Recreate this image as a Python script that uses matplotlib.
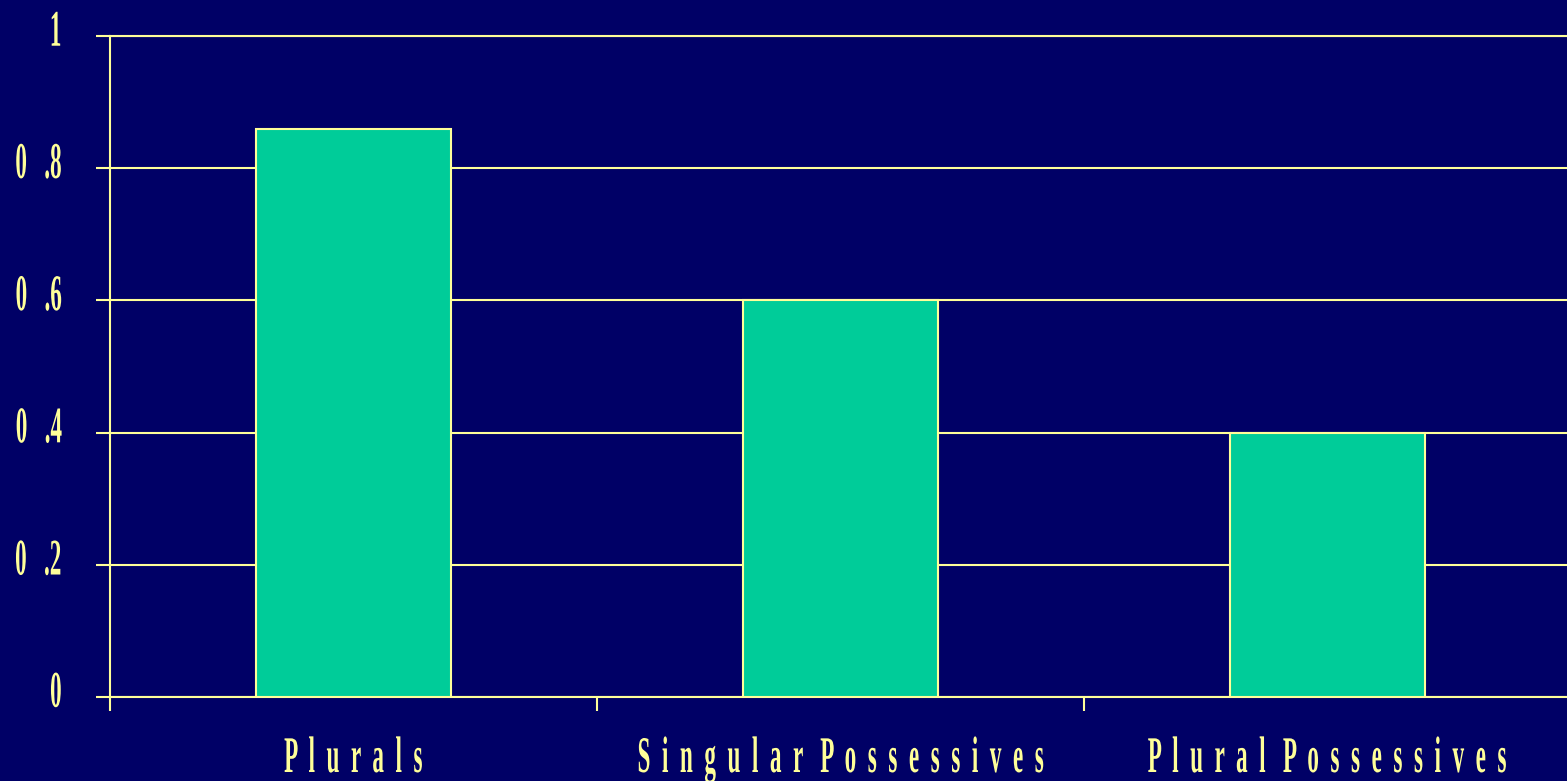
import matplotlib
matplotlib.use("Agg")
import matplotlib.pyplot as plt
import numpy as np
from matplotlib.patheffects import AbstractPathEffect
from matplotlib.transforms import Affine2D, ScaledTranslation

# datos
categorias = ["Plurals", "Singular Possessives", "Plural Possessives"]
valores = [0.86, 0.60, 0.40]
y_ticks = [0, 0.2, 0.4, 0.6, 0.8, 1]

FONDO = "#000066"
BARRA = "#00CC99"
AMARILLO = "#FFFF99"


class Estrecho(AbstractPathEffect):
    """Comprime el texto en horizontal (letra condensada)."""

    def __init__(self, sx=0.45, anclaje="center"):
        super().__init__()
        self.sx = sx
        self.anclaje = anclaje

    def draw_path(self, renderer, gc, tpath, affine, rgbFace=None):
        ext = tpath.get_extents()
        cx = ext.x1 if self.anclaje == "right" else (ext.x0 + ext.x1) / 2
        t = Affine2D().translate(-cx, 0).scale(self.sx, 1).translate(cx, 0) + affine
        renderer.draw_path(gc, tpath, t, rgbFace)


def espaciar(texto):
    # letras separadas, palabras un poco mas separadas
    return "   ".join("  ".join(p) for p in texto.split())


def etiqueta_y(v):
    s = f"{v:g}"
    return s.replace(".", "   .") if "." in s else s


fig = plt.figure(figsize=(15.67, 7.81), dpi=100, facecolor=FONDO)
ax = fig.add_axes([110 / 1567, 84 / 781, 1461 / 1567, 661 / 781])
ax.set_facecolor(FONDO)

x = np.arange(len(categorias))
ax.bar(x, valores, width=0.4, color=BARRA, edgecolor=AMARILLO, linewidth=1.5, zorder=3)

ax.set_xlim(-0.5, 2.5)
ax.set_ylim(0, 1)
ax.grid(axis="y", color=AMARILLO, linewidth=1.5, zorder=0)
ax.set_axisbelow(True)

for lado in ["left", "bottom", "top"]:
    ax.spines[lado].set_color(AMARILLO)
    ax.spines[lado].set_linewidth(1.5)
ax.spines["right"].set_visible(False)

fuente = dict(family="Liberation Serif", weight="bold", size=37, color=AMARILLO)

# eje y
ax.set_yticks(y_ticks)
ax.set_yticklabels([etiqueta_y(v) for v in y_ticks], **fuente)
ax.tick_params(axis="y", length=10, width=1.5, color=AMARILLO, pad=24)
bajar = ScaledTranslation(0, -7 / 72, fig.dpi_scale_trans)
for lab in ax.get_yticklabels():
    lab.set_verticalalignment("baseline")
    lab.set_transform(lab.get_transform() + bajar)
    lab.set_path_effects([Estrecho(0.45, "right")])

# eje x: marcas entre categorias, etiquetas centradas
ax.set_xticks(x)
ax.set_xticklabels([espaciar(c) for c in categorias], **fuente)
ax.set_xticks(np.arange(-0.5, 3, 1), minor=True)
ax.tick_params(axis="x", which="major", length=0, pad=54)
ax.tick_params(axis="x", which="minor", length=10, width=1.5, color=AMARILLO)
for lab in ax.get_xticklabels():
    lab.set_verticalalignment("baseline")
    lab.set_path_effects([Estrecho(0.45, "center")])

fig.savefig("out.png", dpi=100, facecolor=FONDO)
